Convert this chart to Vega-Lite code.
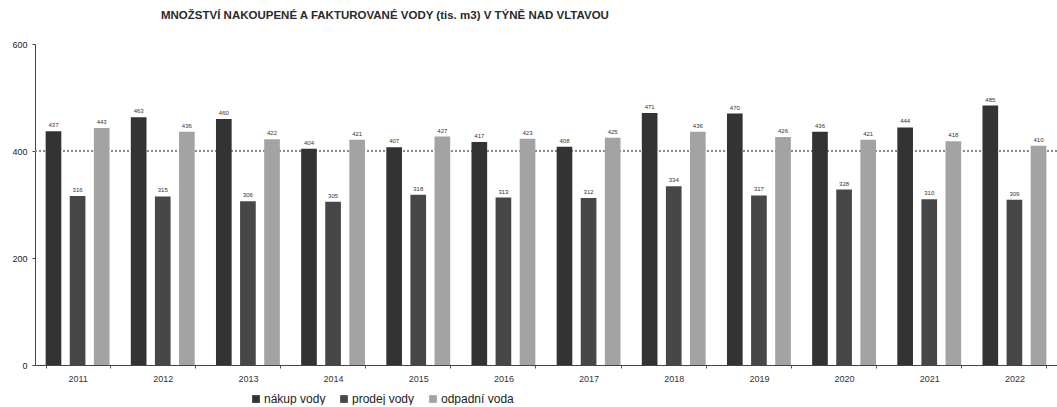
{
  "$schema": "https://vega.github.io/schema/vega-lite/v6.json",
  "width": 1022,
  "height": 321,
  "padding": {"left": 11, "top": 9, "right": 0, "bottom": 0},
  "background": "white",
  "config": {
    "view": {"stroke": null},
    "font": "Liberation Sans"
  },
  "title": {
    "text": "MNOŽSTVÍ NAKOUPENÉ A FAKTUROVANÉ VODY (tis. m3) V TÝNĚ NAD VLTAVOU",
    "anchor": "start",
    "dx": 149,
    "font": "Liberation Sans",
    "fontSize": 11.5,
    "fontWeight": "bold",
    "color": "#2a2a2a",
    "offset": 19
  },
  "data": {
    "values": [
      {"rok": "2011", "serie": "nákup vody", "hodnota": 437},
      {"rok": "2011", "serie": "prodej vody", "hodnota": 316},
      {"rok": "2011", "serie": "odpadní voda", "hodnota": 443},
      {"rok": "2012", "serie": "nákup vody", "hodnota": 463},
      {"rok": "2012", "serie": "prodej vody", "hodnota": 315},
      {"rok": "2012", "serie": "odpadní voda", "hodnota": 436},
      {"rok": "2013", "serie": "nákup vody", "hodnota": 460},
      {"rok": "2013", "serie": "prodej vody", "hodnota": 306},
      {"rok": "2013", "serie": "odpadní voda", "hodnota": 422},
      {"rok": "2014", "serie": "nákup vody", "hodnota": 404},
      {"rok": "2014", "serie": "prodej vody", "hodnota": 305},
      {"rok": "2014", "serie": "odpadní voda", "hodnota": 421},
      {"rok": "2015", "serie": "nákup vody", "hodnota": 407},
      {"rok": "2015", "serie": "prodej vody", "hodnota": 318},
      {"rok": "2015", "serie": "odpadní voda", "hodnota": 427},
      {"rok": "2016", "serie": "nákup vody", "hodnota": 417},
      {"rok": "2016", "serie": "prodej vody", "hodnota": 313},
      {"rok": "2016", "serie": "odpadní voda", "hodnota": 423},
      {"rok": "2017", "serie": "nákup vody", "hodnota": 408},
      {"rok": "2017", "serie": "prodej vody", "hodnota": 312},
      {"rok": "2017", "serie": "odpadní voda", "hodnota": 425},
      {"rok": "2018", "serie": "nákup vody", "hodnota": 471},
      {"rok": "2018", "serie": "prodej vody", "hodnota": 334},
      {"rok": "2018", "serie": "odpadní voda", "hodnota": 436},
      {"rok": "2019", "serie": "nákup vody", "hodnota": 470},
      {"rok": "2019", "serie": "prodej vody", "hodnota": 317},
      {"rok": "2019", "serie": "odpadní voda", "hodnota": 426},
      {"rok": "2020", "serie": "nákup vody", "hodnota": 436},
      {"rok": "2020", "serie": "prodej vody", "hodnota": 328},
      {"rok": "2020", "serie": "odpadní voda", "hodnota": 421},
      {"rok": "2021", "serie": "nákup vody", "hodnota": 444},
      {"rok": "2021", "serie": "prodej vody", "hodnota": 310},
      {"rok": "2021", "serie": "odpadní voda", "hodnota": 418},
      {"rok": "2022", "serie": "nákup vody", "hodnota": 485},
      {"rok": "2022", "serie": "prodej vody", "hodnota": 309},
      {"rok": "2022", "serie": "odpadní voda", "hodnota": 410}
    ]
  },
  "encoding": {
    "x": {
      "field": "rok",
      "type": "nominal",
      "title": null,
      "scale": {"paddingInner": 0.25, "paddingOuter": 0.125},
      "axis": {
        "labelAngle": 0,
        "labelFontSize": 9,
        "labelColor": "#333",
        "labelPadding": 6,
        "tickBand": "extent",
        "tickSize": 3,
        "tickColor": "#555",
        "domainColor": "#444",
        "grid": false
      }
    },
    "xOffset": {
      "field": "serie",
      "type": "nominal",
      "sort": ["nákup vody", "prodej vody", "odpadní voda"],
      "scale": {"paddingInner": 0.35, "paddingOuter": 0}
    },
    "y": {
      "field": "hodnota",
      "type": "quantitative",
      "title": null,
      "scale": {"domain": [0, 600], "nice": false},
      "axis": {
        "values": [0, 200, 400, 600],
        "grid": false,
        "labelFontSize": 9,
        "labelColor": "#222",
        "labelPadding": 5,
        "tickSize": 3,
        "tickColor": "#444",
        "domainColor": "#444"
      }
    }
  },
  "layer": [
    {
      "mark": {"type": "rule", "strokeDash": [2, 2], "color": "#8a8a8a", "strokeWidth": 1},
      "encoding": {"x": null, "xOffset": null, "y": {"datum": 400}}
    },
    {
      "mark": {"type": "bar"},
      "encoding": {
        "color": {
          "field": "serie",
          "type": "nominal",
          "sort": ["nákup vody", "prodej vody", "odpadní voda"],
          "scale": {
            "domain": ["nákup vody", "prodej vody", "odpadní voda"],
            "range": ["#333333", "#474747", "#a3a3a3"]
          },
          "legend": {
            "title": null,
            "orient": "none",
            "direction": "horizontal",
            "legendX": 215,
            "legendY": 349,
            "symbolType": "square",
            "symbolSize": 60,
            "symbolStrokeWidth": 0,
            "labelFontSize": 12,
            "labelColor": "#222",
            "labelOffset": 2,
            "columnPadding": 12
          }
        }
      }
    },
    {
      "mark": {"type": "text", "dy": -6, "fontSize": 6, "color": "#333"},
      "encoding": {"text": {"field": "hodnota", "type": "quantitative"}}
    }
  ]
}
